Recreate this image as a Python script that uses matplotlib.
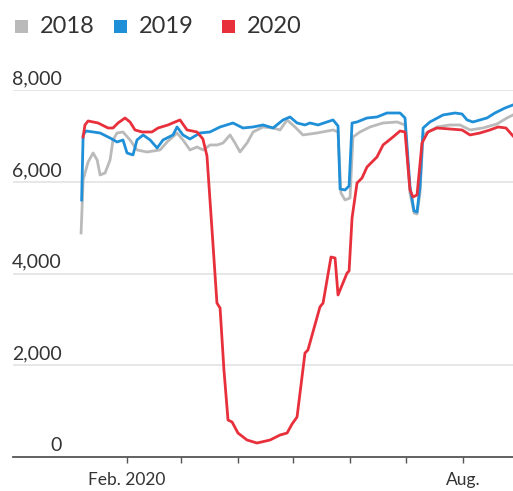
# Traffic chart 2018 / 2019 / 2020

import numpy as np
import pandas as pd
import matplotlib.pyplot as plt
from matplotlib.patches import Rectangle

plt.rc('font', family=['Lato', 'DejaVu Sans'])

# Datos: dias desde el 1 de enero (calendario 2020) y valores
dias_2018 = [6.1, 7.2, 9.9, 12.6, 14.8, 16.4, 19.1, 21.8, 23.4, 25.6, 28.8, 32.6, 36.4,
             41.8, 48.9, 52.7, 58.1, 61.3, 65.1, 68.9, 72.2, 76.0, 79.8, 83.0, 86.8,
             89.5, 92.2, 96.0, 99.3, 104.7, 110.1, 113.9, 117.7, 122.0, 126.3, 133.9,
             142.6, 145.3, 146.9, 149.1, 151.8, 153.4, 157.2, 162.6, 169.7, 177.3,
             181.6, 184.3, 186.5, 188.1, 189.7, 191.4, 198.9, 205.9, 211.4, 216.8,
             223.8, 231.4, 236.8, 240.1]
vals_2018 = [4883, 6039, 6431, 6627, 6475, 6148, 6191, 6475, 6911, 7063, 7085, 6911, 6693,
             6649, 6693, 6867, 7063, 6911, 6693, 6758, 6693, 6802, 6802, 6845, 7020,
             6845, 6649, 6845, 7085, 7194, 7172, 7129, 7347, 7194, 7020, 7063,
             7129, 7085, 5755, 5603, 5646, 6976, 7085, 7194, 7281, 7303,
             7238, 5755, 5319, 5297, 5755, 7020, 7194, 7238, 7238, 7129,
             7172, 7259, 7390, 7456]

dias_2019 = [6.4, 7.2, 8.8, 16.4, 21.8, 25.6, 28.8, 31.0, 34.2, 36.4, 39.7, 43.5, 47.3,
             50.5, 55.9, 58.1, 61.3, 65.1, 70.5, 75.9, 81.4, 88.4, 93.8, 99.3, 104.7,
             110.1, 115.5, 119.3, 123.1, 127.4, 130.1, 134.5, 139.3, 142.6, 145.3,
             146.4, 149.1, 151.3, 152.9, 155.6, 161.0, 166.4, 171.8, 178.9, 181.6,
             184.3, 186.5, 188.1, 189.7, 191.4, 195.1, 202.2, 208.7, 212.5, 215.2,
             218.4, 222.2, 226.0, 230.3, 235.8, 240.1]
vals_2019 = [5603, 7020, 7107, 7063, 6954, 6867, 6911, 6627, 6584, 6911, 7020, 6911, 6736,
             6911, 7020, 7194, 7020, 6932, 7063, 7085, 7194, 7281, 7172, 7194, 7238,
             7172, 7347, 7412, 7281, 7238, 7281, 7238, 7303, 7347, 7216,
             5842, 5821, 5908, 7281, 7303, 7390, 7412, 7499, 7499, 7390,
             5886, 5363, 5341, 5886, 7172, 7303, 7456, 7499, 7477, 7347,
             7303, 7347, 7390, 7499, 7608, 7674]

dias_2020 = [7.2, 8.2, 9.9, 15.3, 20.7, 23.4, 26.1, 29.9, 32.6, 35.3, 39.1, 44.5, 47.8,
             53.2, 57.0, 59.7, 63.5, 68.9, 72.1, 74.3, 77.0, 79.7, 81.4, 83.5, 85.7,
             87.9, 91.1, 96.0, 101.4, 108.5, 113.9, 117.7, 120.4, 123.1, 127.4, 129.0,
             135.5, 137.2, 141.5, 143.7, 145.3, 150.2, 151.3, 152.9, 155.6, 158.3,
             161.0, 166.4, 169.7, 175.1, 178.9, 181.6, 184.3, 185.9, 188.1, 190.8,
             194.0, 198.9, 205.9, 212.5, 216.8, 222.2, 227.6, 232.0, 236.3, 240.1]
vals_2020 = [6976, 7238, 7325, 7281, 7172, 7172, 7281, 7390, 7303, 7129, 7085, 7085, 7172,
             7238, 7303, 7347, 7129, 7085, 6933, 6562, 4970, 3357, 3248, 1897, 807,
             763, 523, 371, 305, 371, 480, 523, 719, 872, 2267, 2333,
             3270, 3357, 4360, 4338, 3532, 4011, 4055, 5210, 5973, 6082,
             6322, 6540, 6802, 6976, 7107, 7085, 5821, 5668, 5712, 6845,
             7085, 7172, 7150, 7129, 7020, 7063, 7129, 7194, 7172, 6998]

series = ['2018', '2019', '2020']
colores = ['#bababa', '#1f8fd8', '#e8303c']

y_ticks = [0, 2000, 4000, 6000, 8000]
meses = ['2020-02-01', '2020-03-01', '2020-04-01', '2020-05-01',
         '2020-06-01', '2020-07-01', '2020-08-01']
etiquetas_meses = ['Feb. 2020', '', '', '', '', '', 'Aug.']

base = pd.Timestamp('2020-01-01')
x_ticks = [(pd.Timestamp(m) - base).days for m in meses]

fig = plt.figure(figsize=(5.13, 4.91), dpi=100)
ax = fig.add_axes([0.0253, 0.0692, 0.9747, 0.7475])

texto = '#333333'

for yv in y_ticks[1:]:
    ax.axhline(yv, color='#e3e3e3', linewidth=1.2, zorder=0)

for dias, vals, c in zip([dias_2018, dias_2019, dias_2020],
                         [vals_2018, vals_2019, vals_2020], colores):
    ax.plot(dias, vals, color=c, linewidth=2.0, solid_joinstyle='round', zorder=2)

ax.set_xlim(-30.8, 240.1)
ax.set_ylim(0, 8000)

for s in ['top', 'right', 'left']:
    ax.spines[s].set_visible(False)
ax.spines['bottom'].set_color('#555555')
ax.spines['bottom'].set_linewidth(1.3)

ax.set_yticks([])
ax.set_xticks(x_ticks)
ax.set_xticklabels(etiquetas_meses, fontsize=12.5, color=texto)
ax.tick_params(axis='x', direction='out', length=4, width=1, color='#555555', pad=7)

for yv in y_ticks:
    ax.text(0.098, yv + 60, f'{yv:,}', transform=ax.get_yaxis_transform(),
            ha='right', va='bottom', fontsize=14, color=texto)

# Leyenda manual
leg_x = [15, 114, 222]
for nombre, c, lx in zip(series, colores, leg_x):
    fig.add_artist(Rectangle((lx / 513, 1 - 33 / 491), 13 / 513, 13 / 491,
                             transform=fig.transFigure, color=c, lw=0))
    fig.text((lx + 25) / 513, 1 - 26.5 / 491, nombre, ha='left', va='center',
             fontsize=17, color=texto)

plt.savefig('out.png', dpi=100)
